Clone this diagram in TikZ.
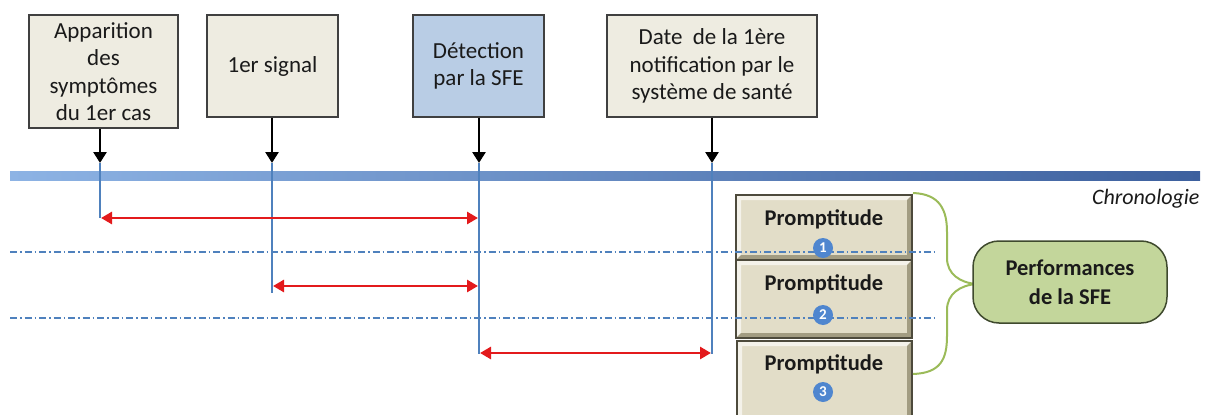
\documentclass[tikz,border=0pt]{standalone}
\usepackage{fontspec}
\setmainfont{Carlito}
\usetikzlibrary{arrows.meta}
\definecolor{boxfill}{HTML}{EEECE1}
\definecolor{boxline}{HTML}{404040}
\definecolor{detfill}{HTML}{B9CDE5}
\definecolor{vline}{HTML}{4F81BD}
\definecolor{redarr}{HTML}{E31A1C}
\definecolor{promptin}{HTML}{E2DDC8}
\definecolor{promptlight}{HTML}{F4F2EA}
\definecolor{promptdark}{HTML}{A29C82}
\definecolor{promptline}{HTML}{4D4A3C}
\definecolor{bracegreen}{HTML}{9BBB59}
\definecolor{perffill}{HTML}{C3D69B}
\definecolor{perfline}{HTML}{3F4A2E}
\definecolor{numblue}{HTML}{4F86CF}
\definecolor{txt}{HTML}{1A1A1A}
\definecolor{tlleft}{HTML}{8DB3E4}
\definecolor{tlmid}{HTML}{7DA3D9}
\definecolor{tlright}{HTML}{3D609E}
\newcommand{\bevelbox}[4]{%
  \fill[promptin] (#1,#2) rectangle (#3,#4);
  \fill[promptlight] (#1,#2) -- (#3,#2) -- ({#3-5},{#2+5}) -- ({#1+5},{#2+5}) -- ({#1+5},{#4-5}) -- (#1,#4) -- cycle;
  \fill[promptdark] (#3,#4) -- (#1,#4) -- ({#1+5},{#4-5}) -- ({#3-5},{#4-5}) -- ({#3-5},{#2+5}) -- (#3,#2) -- cycle;
  \draw[promptline, line width=1.5pt] (#1,#2) rectangle (#3,#4);
}
\begin{document}
\begin{tikzpicture}[x=1pt,y=-1pt,
  every node/.style={font=\fontsize{23}{27.5}\selectfont, text=txt},
  evbox/.style={draw=boxline, fill=boxfill, line width=1.3pt, align=center, inner sep=0pt},
  downarrow/.style={line width=2.6pt, -{Triangle[length=11pt,width=13pt]}},
  tick/.style={draw=vline, line width=1.3pt},
  span/.style={draw=redarr, line width=2.8pt, {Triangle[length=11pt,width=12pt]}-{Triangle[length=11pt,width=12pt]}},
  sep/.style={draw=vline, line width=1.3pt, dash pattern=on 7pt off 3pt on 1.5pt off 3pt},
  num/.style={circle, fill=numblue, inner sep=0pt, minimum size=20pt, text=white, font=\bfseries\fontsize{15}{15}\selectfont},
  ptext/.style={font=\bfseries\fontsize{22.5}{26}\selectfont}
]
\useasboundingbox (0,0) rectangle (1208,415);
\clip (0,0) rectangle (1208,415);

% event boxes
\node[evbox, minimum width=149pt, minimum height=113pt] (b1) at (103.5,71.5) {Apparition\\des\\symptômes\\du 1er cas};
\node[evbox, minimum width=131pt, minimum height=102pt] (b2) at (272.5,66) {1er signal};
\node[evbox, fill=detfill, minimum width=131pt, minimum height=102pt] (b3) at (478.5,66) {Détection\\par la SFE};
\node[evbox, minimum width=210pt, minimum height=102pt] (b4) at (712,66) {Date\ \ de la 1ère\\notification par le\\système de santé};

% timeline
\shade[left color=tlleft, middle color=tlmid, right color=tlright] (10,171) rectangle (1200,180);
\node[anchor=east, font=\itshape\fontsize{22}{26}\selectfont] (chrono) at (1203,199) {Chronologie};

% coordinates on the timeline
\coordinate (t1) at (100,163);
\coordinate (t2) at (272,163);
\coordinate (t3) at (479,163);
\coordinate (t4) at (712,163);
\coordinate (e1) at (100,218);
\coordinate (e2) at (272,293);
\coordinate (e3) at (479,354);
\coordinate (e4) at (712,354);

% vertical ticks
\draw[tick] (t1) -- (e1);
\draw[tick] (t2) -- (e2);
\draw[tick] (t3) -- (e3);
\draw[tick] (t4) -- (e4);

% arrows from boxes
\draw[downarrow] (b1.south -| t1) -- (t1);
\draw[downarrow] (b2.south -| t2) -- (t2);
\draw[downarrow] (b3.south -| t3) -- (t3);
\draw[downarrow] (b4.south -| t4) -- (t4);

% red spans
\coordinate (r1a) at (101,218);
\coordinate (r1b) at (478,218);
\coordinate (r2a) at (273,286);
\coordinate (r2b) at (478,286);
\coordinate (r3a) at (480,353);
\coordinate (r3b) at (711,353);
\draw[span] (r1a) -- (r1b);
\draw[span] (r2a) -- (r2b);
\draw[span] (r3a) -- (r3b);

% promptitude boxes
\bevelbox{736}{195}{912}{260}
\bevelbox{736}{260}{912}{338}
\bevelbox{737}{341}{912}{430}
\node[ptext] (p1) at (824,219) {Promptitude};
\node[ptext] (p2) at (824,284) {Promptitude};
\node[ptext] (p3) at (824,364) {Promptitude};

% separators
\coordinate (s1a) at (10,252);
\coordinate (s1b) at (935,252);
\coordinate (s2a) at (10,318);
\coordinate (s2b) at (935,318);
\draw[sep] (s1a) -- (s1b);
\draw[sep] (s2a) -- (s2b);

% numbers
\node[num] (n1) at (823,248) {1};
\node[num] (n2) at (823,315) {2};
\node[num] (n3) at (823,392) {3};

% brace
\draw[bracegreen, line width=2pt] (913,193) .. controls (940,194) and (947,210) .. (947,232)
  -- (947,258) .. controls (947,274) and (960,283) .. (977,284)
  .. controls (960,285) and (947,294) .. (947,310)
  -- (947,336) .. controls (947,360) and (940,373) .. (913,374);

% performances
\node[draw=perfline, fill=perffill, line width=1.5pt, rounded corners=26pt, minimum width=194pt, minimum height=82pt, align=center, font=\bfseries\fontsize{22.5}{29}\selectfont, inner sep=0pt] (perf) at (1070,282) {Performances\\de la SFE};
\end{tikzpicture}
\end{document}
